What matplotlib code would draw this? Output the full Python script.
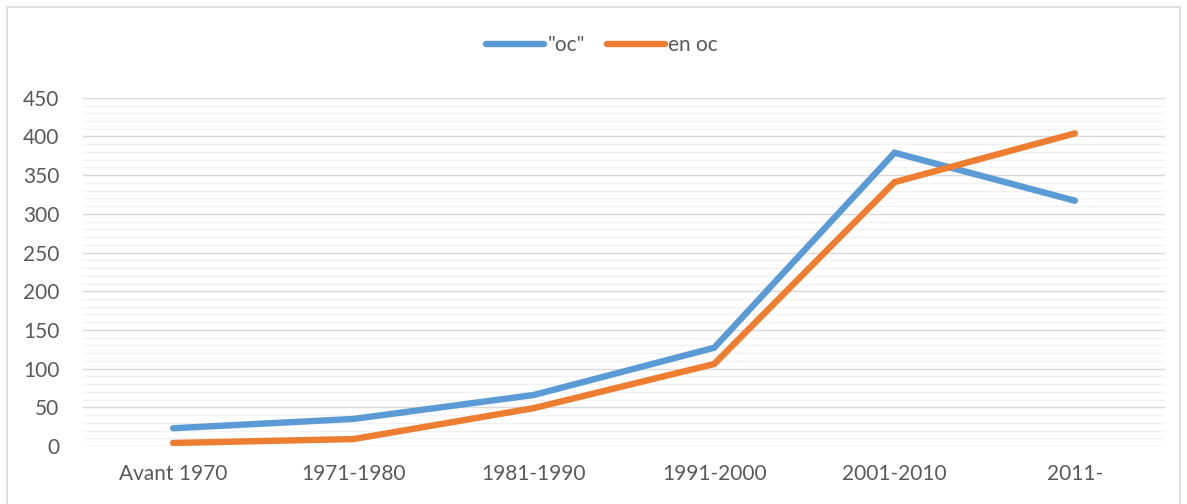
import matplotlib.pyplot as plt
from matplotlib.patches import Rectangle
from matplotlib.ticker import MultipleLocator

plt.rcParams['font.family'] = ['Lato', 'DejaVu Sans']

# data
periods = ['Avant 1970', '1971-1980', '1981-1990', '1991-2000', '2001-2010', '2011-']
oc_quoted = [23, 35, 66, 127, 379, 317]
en_oc = [4, 9, 49, 106, 341, 404]

blue = '#5B9BD5'
orange = '#ED7D31'
text_col = '#595959'

fig = plt.figure(figsize=(11.87, 5.04), dpi=100)
ax = fig.add_axes([0.0699, 0.115, 0.9116, 0.691])

x = range(len(periods))
ax.plot(x, oc_quoted, color=blue, lw=4.6, solid_capstyle='round',
        solid_joinstyle='miter', label='"oc"', zorder=3)
ax.plot(x, en_oc, color=orange, lw=4.6, solid_capstyle='round',
        solid_joinstyle='miter', label='en oc', zorder=3)

ax.set_xlim(-0.5, len(periods) - 0.5)
ax.set_ylim(0, 450)
ax.yaxis.set_major_locator(MultipleLocator(50))
ax.yaxis.set_minor_locator(MultipleLocator(10))
ax.grid(which='major', axis='y', color='#D9D9D9', lw=1.0)
ax.grid(which='minor', axis='y', color='#F2F2F2', lw=1.0)
ax.set_axisbelow(True)

ax.set_xticks(list(x))
ax.set_xticklabels(periods)
ax.tick_params(axis='both', which='both', length=0, labelsize=15, colors=text_col)
ax.tick_params(axis='x', pad=13)
ax.tick_params(axis='y', pad=17)
for s in ax.spines.values():
    s.set_visible(False)

leg = fig.legend(loc='center', bbox_to_anchor=(0.507, 0.91), ncol=2, frameon=False,
                 fontsize=15, handlelength=2.8, handletextpad=0.15, columnspacing=1.05)
for t in leg.get_texts():
    t.set_color(text_col)

# outer chart frame
fig.patches.append(Rectangle((0.006, -0.01), 0.988, 0.996, transform=fig.transFigure,
                             fill=False, edgecolor='#D9D9D9', lw=1.2))

fig.savefig('out.png', dpi=100)
